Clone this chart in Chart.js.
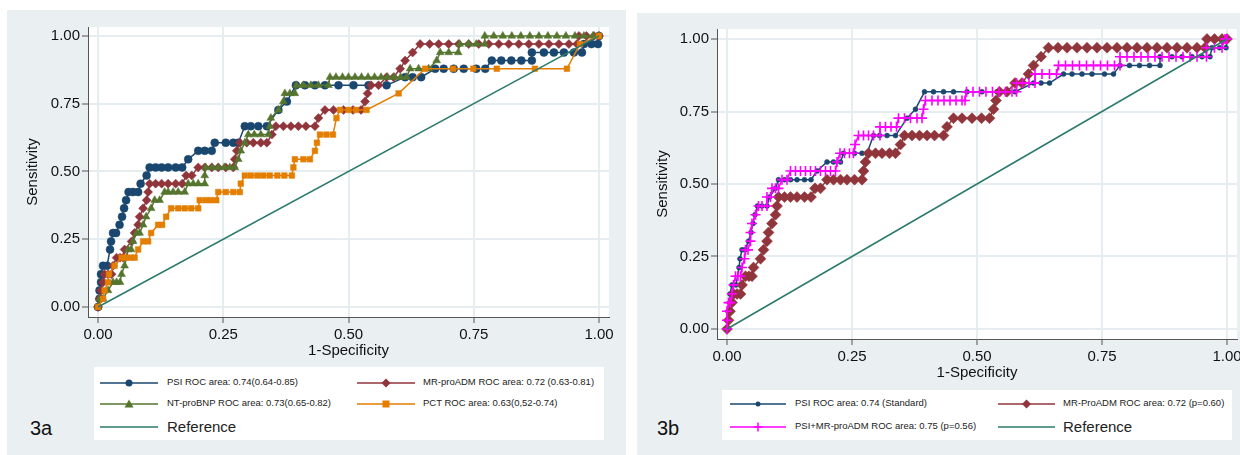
<!DOCTYPE html>
<html>
<head>
<meta charset="utf-8">
<script src="https://cdn.jsdelivr.net/npm/chart.js@4.4.1/dist/chart.umd.min.js"></script>
<style>
  body { margin:0; width:1240px; height:455px; background:#fff; position:relative; overflow:hidden;
         font-family:"Liberation Sans", Arial, sans-serif; }
  .panel { position:absolute; background:#eaf0f2; }
  canvas { position:absolute; }
  .legend { position:absolute; background:#fff; }
  .txt { position:absolute; white-space:nowrap; color:#222; line-height:1; }
  .tag { position:absolute; font-size:20px; color:#111; line-height:1; }
</style>
</head>
<body>
<div class="panel" style="left:7px;top:10px;width:619px;height:445px"></div>
<div class="panel" style="left:637px;top:13px;width:603px;height:442px"></div>
<canvas id="chartA" width="619" height="355" style="left:7px;top:10px"></canvas>
<canvas id="chartB" width="620" height="377" style="left:637px;top:10px"></canvas>
<div class="legend" style="left:94px;top:367px;width:510px;height:73px"></div>
<div class="legend" style="left:722px;top:390px;width:510px;height:50px"></div>
<div class="tag" style="left:30px;top:418px">3a</div>
<div class="tag" style="left:657px;top:418px">3b</div>
<div id="legendItems"></div>

<script>
// tick positions shared by both axes
const axisTicks = [0, 0.25, 0.5, 0.75, 1];

// PSI (same curve in both panels)
const psiX = [0, 0.003, 0.003, 0.006, 0.006, 0.010, 0.018, 0.024, 0.026, 0.030, 0.036, 0.043, 0.048, 0.052, 0.056, 0.061, 0.070, 0.080, 0.085, 0.097,
  0.103, 0.115, 0.127, 0.140, 0.155, 0.168, 0.180, 0.200, 0.213, 0.227, 0.233, 0.255, 0.270, 0.280, 0.293, 0.305, 0.320, 0.337, 0.360, 0.377,
  0.395, 0.413, 0.433, 0.453, 0.480, 0.510, 0.540, 0.576, 0.613, 0.628, 0.645, 0.673, 0.690, 0.710, 0.730, 0.755, 0.773, 0.786, 0.805, 0.825,
  0.845, 0.866, 0.866, 0.890, 0.910, 0.930, 0.950, 0.966, 0.970, 0.985, 0.998, 1.000];
const psiY = [0, 0.030, 0.061, 0.091, 0.121, 0.152, 0.152, 0.212, 0.242, 0.273, 0.273, 0.303, 0.333, 0.364, 0.394, 0.424, 0.424, 0.424, 0.455, 0.485,
  0.515, 0.515, 0.515, 0.515, 0.515, 0.515, 0.545, 0.576, 0.576, 0.576, 0.606, 0.606, 0.606, 0.606, 0.667, 0.667, 0.667, 0.667, 0.727, 0.758,
  0.818, 0.818, 0.818, 0.818, 0.818, 0.818, 0.818, 0.818, 0.848, 0.848, 0.848, 0.879, 0.879, 0.879, 0.879, 0.879, 0.879, 0.909, 0.909, 0.909,
  0.909, 0.909, 0.939, 0.939, 0.939, 0.939, 0.939, 0.939, 0.970, 0.970, 0.970, 1.000];

// MR-proADM (same curve in both panels)
const mrX = [0, 0.003, 0.006, 0.010, 0.013, 0.020, 0.027, 0.030, 0.037, 0.044, 0.050, 0.053, 0.067, 0.073, 0.080, 0.083, 0.090, 0.097, 0.100, 0.103,
  0.115, 0.127, 0.140, 0.155, 0.168, 0.176, 0.187, 0.200, 0.213, 0.227, 0.240, 0.255, 0.270, 0.273, 0.277, 0.283, 0.297, 0.310, 0.325, 0.337,
  0.347, 0.355, 0.370, 0.385, 0.400, 0.415, 0.433, 0.440, 0.453, 0.470, 0.490, 0.509, 0.525, 0.533, 0.538, 0.545, 0.560, 0.576, 0.590, 0.603,
  0.613, 0.628, 0.643, 0.662, 0.680, 0.700, 0.720, 0.740, 0.760, 0.780, 0.800, 0.820, 0.840, 0.860, 0.880, 0.900, 0.920, 0.940, 0.956, 0.960,
  0.975, 0.990, 1.000];
const mrY = [0, 0.030, 0.061, 0.091, 0.121, 0.121, 0.121, 0.152, 0.182, 0.182, 0.182, 0.212, 0.242, 0.273, 0.303, 0.333, 0.364, 0.394, 0.424, 0.455,
  0.455, 0.455, 0.455, 0.455, 0.455, 0.485, 0.485, 0.515, 0.515, 0.515, 0.515, 0.515, 0.515, 0.545, 0.576, 0.606, 0.606, 0.606, 0.606, 0.606,
  0.636, 0.667, 0.667, 0.667, 0.667, 0.667, 0.667, 0.697, 0.727, 0.727, 0.727, 0.727, 0.727, 0.758, 0.788, 0.818, 0.818, 0.848, 0.848, 0.879,
  0.909, 0.939, 0.970, 0.970, 0.970, 0.970, 0.970, 0.970, 0.970, 0.970, 0.970, 0.970, 0.970, 0.970, 0.970, 0.970, 0.970, 0.970, 0.970, 1.000,
  1.000, 1.000, 1.000];

// NT-proBNP
const ntX = [0, 0.003, 0.010, 0.020, 0.030, 0.037, 0.044, 0.047, 0.053, 0.057, 0.060, 0.066, 0.070, 0.077, 0.083, 0.090, 0.096, 0.106, 0.113, 0.123,
  0.133, 0.140, 0.150, 0.160, 0.173, 0.180, 0.190, 0.200, 0.213, 0.213, 0.215, 0.228, 0.240, 0.252, 0.263, 0.273, 0.280, 0.285, 0.293, 0.300,
  0.312, 0.325, 0.340, 0.343, 0.345, 0.360, 0.370, 0.373, 0.383, 0.393, 0.396, 0.410, 0.425, 0.440, 0.460, 0.463, 0.475, 0.488, 0.500, 0.513,
  0.526, 0.539, 0.552, 0.565, 0.578, 0.591, 0.604, 0.616, 0.623, 0.640, 0.660, 0.676, 0.683, 0.700, 0.719, 0.722, 0.740, 0.755, 0.772, 0.772,
  0.790, 0.808, 0.826, 0.844, 0.862, 0.880, 0.898, 0.916, 0.934, 0.952, 0.970, 0.988, 1.000];
const ntY = [0, 0.030, 0.030, 0.061, 0.091, 0.091, 0.091, 0.121, 0.152, 0.182, 0.212, 0.212, 0.242, 0.273, 0.273, 0.303, 0.333, 0.364, 0.394, 0.394,
  0.424, 0.424, 0.424, 0.424, 0.424, 0.455, 0.455, 0.455, 0.455, 0.485, 0.515, 0.515, 0.515, 0.515, 0.515, 0.515, 0.545, 0.576, 0.606, 0.636,
  0.636, 0.636, 0.636, 0.667, 0.697, 0.727, 0.758, 0.788, 0.788, 0.788, 0.818, 0.818, 0.818, 0.818, 0.818, 0.848, 0.848, 0.848, 0.848, 0.848,
  0.848, 0.848, 0.848, 0.848, 0.848, 0.848, 0.848, 0.848, 0.879, 0.879, 0.879, 0.909, 0.939, 0.939, 0.939, 0.970, 0.970, 0.970, 0.970, 1.000,
  1.000, 1.000, 1.000, 1.000, 1.000, 1.000, 1.000, 1.000, 1.000, 1.000, 1.000, 1.000, 1.000];

// PCT
const pctX = [0, 0.010, 0.013, 0.020, 0.022, 0.033, 0.047, 0.055, 0.065, 0.073, 0.080, 0.090, 0.100, 0.106, 0.120, 0.128, 0.136, 0.146, 0.160, 0.173,
  0.186, 0.200, 0.203, 0.215, 0.225, 0.236, 0.240, 0.255, 0.270, 0.283, 0.285, 0.293, 0.305, 0.318, 0.330, 0.343, 0.358, 0.372, 0.387, 0.390,
  0.393, 0.410, 0.423, 0.433, 0.437, 0.443, 0.456, 0.469, 0.476, 0.483, 0.500, 0.515, 0.536, 0.600, 0.653, 0.709, 0.749, 0.796, 0.872, 0.936,
  0.962, 1.000];
const pctY = [0, 0.030, 0.061, 0.091, 0.121, 0.152, 0.182, 0.182, 0.182, 0.182, 0.212, 0.242, 0.242, 0.273, 0.303, 0.303, 0.333, 0.364, 0.364, 0.364,
  0.364, 0.364, 0.394, 0.394, 0.394, 0.394, 0.424, 0.424, 0.424, 0.424, 0.455, 0.485, 0.485, 0.485, 0.485, 0.485, 0.485, 0.485, 0.485, 0.515,
  0.545, 0.545, 0.545, 0.576, 0.606, 0.636, 0.636, 0.636, 0.697, 0.727, 0.727, 0.727, 0.727, 0.788, 0.879, 0.879, 0.879, 0.879, 0.879, 0.879,
  0.970, 1.000];

// PSI+MR-proADM (panel b)
const comboX = [0, 0.000, 0.000, 0.003, 0.007, 0.010, 0.013, 0.017, 0.022, 0.027, 0.030, 0.035, 0.037, 0.042, 0.047, 0.047, 0.050, 0.057, 0.063, 0.070,
  0.080, 0.080, 0.087, 0.090, 0.097, 0.103, 0.110, 0.120, 0.127, 0.137, 0.147, 0.157, 0.167, 0.177, 0.187, 0.197, 0.207, 0.217, 0.220, 0.226,
  0.235, 0.245, 0.253, 0.256, 0.263, 0.273, 0.283, 0.293, 0.306, 0.306, 0.317, 0.328, 0.339, 0.343, 0.355, 0.367, 0.380, 0.390, 0.393, 0.397,
  0.410, 0.422, 0.434, 0.446, 0.458, 0.470, 0.476, 0.479, 0.492, 0.505, 0.518, 0.531, 0.544, 0.557, 0.570, 0.579, 0.579, 0.591, 0.604, 0.616,
  0.616, 0.630, 0.645, 0.659, 0.663, 0.677, 0.691, 0.705, 0.719, 0.733, 0.747, 0.761, 0.775, 0.786, 0.786, 0.800, 0.814, 0.828, 0.842, 0.856,
  0.870, 0.884, 0.898, 0.912, 0.926, 0.940, 0.959, 0.959, 0.975, 0.990, 0.996, 1.000];
const comboY = [0, 0.030, 0.061, 0.091, 0.091, 0.121, 0.152, 0.182, 0.182, 0.182, 0.212, 0.242, 0.273, 0.273, 0.303, 0.333, 0.364, 0.394, 0.424, 0.424,
  0.424, 0.455, 0.455, 0.485, 0.485, 0.485, 0.515, 0.515, 0.545, 0.545, 0.545, 0.545, 0.545, 0.545, 0.545, 0.545, 0.545, 0.545, 0.576, 0.606,
  0.606, 0.606, 0.606, 0.636, 0.667, 0.667, 0.667, 0.667, 0.667, 0.697, 0.697, 0.697, 0.697, 0.727, 0.727, 0.727, 0.727, 0.727, 0.758, 0.788,
  0.788, 0.788, 0.788, 0.788, 0.788, 0.788, 0.788, 0.818, 0.818, 0.818, 0.818, 0.818, 0.818, 0.818, 0.818, 0.818, 0.848, 0.848, 0.848, 0.848,
  0.879, 0.879, 0.879, 0.879, 0.909, 0.909, 0.909, 0.909, 0.909, 0.909, 0.909, 0.909, 0.909, 0.909, 0.939, 0.939, 0.939, 0.939, 0.939, 0.939,
  0.939, 0.939, 0.939, 0.939, 0.939, 0.939, 0.939, 0.970, 0.970, 0.970, 1.000, 1.000];

// chance line
const refX = [0, 1];
const refY = [0, 1];

const labelsA = ['PSI ROC area: 0.74(0.64-0.85)', 'MR-proADM ROC area: 0.72 (0.63-0.81)',
                 'NT-proBNP ROC area: 0.73(0.65-0.82)', 'PCT ROC area: 0.63(0,52-0.74)', 'Reference'];
const labelsB = ['PSI ROC area: 0.74 (Standard)', 'MR-ProADM ROC area: 0.72 (p=0.60)',
                 'PSI+MR-proADM ROC area: 0.75 (p=0.56)', 'Reference'];

const navy = '#1a476f', maroon = '#90353b', green = '#55752f', orange = '#e37e00',
      magenta = '#ff00ff', teal = '#2b7a6b';

Chart.defaults.font.family = '"Liberation Sans", Arial, sans-serif';

const pts = (xs, ys) => xs.map((x, i) => ({x: x, y: ys[i]}));

function series(label, xs, ys, color, style, radius, order) {
  return {
    label: label,
    data: pts(xs, ys),
    showLine: true,
    borderColor: color,
    backgroundColor: color,
    borderWidth: 1.5,
    pointStyle: style,
    pointRadius: radius,
    pointBorderWidth: style === 'cross' ? 1.6 : 0.5,
    pointBackgroundColor: color,
    pointBorderColor: color,
    tension: 0,
    order: order
  };
}

// white plot region
const plotBg = {
  id: 'plotBg',
  beforeDraw(chart) {
    const a = chart.chartArea, ctx = chart.ctx;
    ctx.save();
    ctx.fillStyle = '#ffffff';
    ctx.fillRect(a.left, a.top, a.right - a.left, a.bottom - a.top);
    ctx.restore();
  }
};

function makeChart(id, datasets, yMin, yMax, yWidth, pad) {
  const grid = {color: '#e5edf0', lineWidth: 2, tickColor: '#555', tickLength: 6, tickWidth: 1};
  return new Chart(document.getElementById(id), {
    type: 'scatter',
    data: {datasets: datasets},
    options: {
      responsive: false,
      animation: false,
      devicePixelRatio: 1,
      layout: {padding: pad},
      plugins: {legend: {display: false}, tooltip: {enabled: false}},
      scales: {
        x: {
          type: 'linear', min: -0.02, max: 1.02,
          afterBuildTicks: s => { s.ticks = axisTicks.map(v => ({value: v})); },
          afterFit: s => { s.height = 48; },
          ticks: {callback: v => v.toFixed(2), font: {size: 15}, color: '#111', padding: 3, maxRotation: 0},
          grid: grid,
          border: {color: '#555', width: 1},
          title: {display: true, text: '1-Specificity', font: {size: 15}, color: '#111', padding: {top: 0, bottom: 5}}
        },
        y: {
          type: 'linear', min: yMin, max: yMax,
          afterBuildTicks: s => { s.ticks = axisTicks.map(v => ({value: v})); },
          afterFit: s => { s.width = yWidth; },
          ticks: {callback: v => v.toFixed(2), font: {size: 15}, color: '#111', padding: 2},
          grid: grid,
          border: {color: '#555', width: 1},
          title: {display: true, text: 'Sensitivity', font: {size: 15}, color: '#111', padding: {top: 17, bottom: 0}}
        }
      }
    },
    plugins: [plotBg]
  });
}

makeChart('chartA', [
  series(labelsA[0], psiX, psiY, navy, 'circle', 4, 5),
  series(labelsA[1], mrX, mrY, maroon, 'rectRot', 4.5, 4),
  series(labelsA[2], ntX, ntY, green, 'triangle', 4.5, 3),
  series(labelsA[3], pctX, pctY, orange, 'rect', 4, 2),
  series(labelsA[4], refX, refY, teal, 'circle', 0, 1)
], -0.037, 1.033, 81, {top: 17, right: 17, left: 0, bottom: 0});

makeChart('chartB', [
  series(labelsB[0], psiX, psiY, navy, 'circle', 2.5, 4),
  series(labelsB[1], mrX, mrY, maroon, 'rectRot', 5.5, 3),
  series(labelsB[2], comboX, comboY, magenta, 'cross', 5, 2),
  series(labelsB[3], refX, refY, teal, 'circle', 0, 1)
], -0.0345, 1.0345, 80, {top: 19, right: 20, left: 0, bottom: 0});

// legend entries (sample line + marker, then text)
function markerSvg(kind, cx, cy, color, r) {
  if (kind === 'circle') return `<circle cx="${cx}" cy="${cy}" r="${r}" fill="${color}"/>`;
  if (kind === 'diamond') return `<polygon points="${cx},${cy - r} ${cx + r},${cy} ${cx},${cy + r} ${cx - r},${cy}" fill="${color}"/>`;
  if (kind === 'triangle') return `<polygon points="${cx},${cy - r} ${cx + r},${cy + r * 0.8} ${cx - r},${cy + r * 0.8}" fill="${color}"/>`;
  if (kind === 'square') return `<rect x="${cx - r}" y="${cy - r}" width="${2 * r}" height="${2 * r}" fill="${color}"/>`;
  if (kind === 'plus') return `<path d="M${cx - r} ${cy}H${cx + r}M${cx} ${cy - r}V${cy + r}" stroke="${color}" stroke-width="1.5"/>`;
  return '';
}

const holder = document.getElementById('legendItems');
function legendItem(x0, x1, textX, y, color, kind, r, text, size) {
  const w = x1 - x0 + 12;
  holder.insertAdjacentHTML('beforeend',
    `<svg width="${w}" height="16" style="position:absolute;left:${x0 - 6}px;top:${y - 8}px">` +
    `<line x1="6" y1="8" x2="${w - 6}" y2="8" stroke="${color}" stroke-width="1.5"/>` +
    markerSvg(kind, w / 2, 8, color, r) + `</svg>` +
    `<div class="txt" style="left:${textX}px;top:${y - size / 2 - 1}px;font-size:${size}px">${text}</div>`);
}

legendItem(100, 158, 167, 383, navy, 'circle', 3.5, labelsA[0], 9.5);
legendItem(357, 415, 423, 383, maroon, 'diamond', 4.5, labelsA[1], 9.5);
legendItem(100, 158, 167, 404, green, 'triangle', 4.5, labelsA[2], 9.5);
legendItem(357, 415, 423, 404, orange, 'square', 3.5, labelsA[3], 9.5);
legendItem(100, 158, 167, 427, teal, 'none', 0, labelsA[4], 15);

legendItem(730, 786, 795, 404, navy, 'circle', 2.5, labelsB[0], 9.5);
legendItem(998, 1055, 1063, 404, maroon, 'diamond', 4.5, labelsB[1], 9.5);
legendItem(730, 786, 795, 427, magenta, 'plus', 4.5, labelsB[2], 9.5);
legendItem(998, 1055, 1063, 427, teal, 'none', 0, labelsB[3], 15);
</script>
</body>
</html>
